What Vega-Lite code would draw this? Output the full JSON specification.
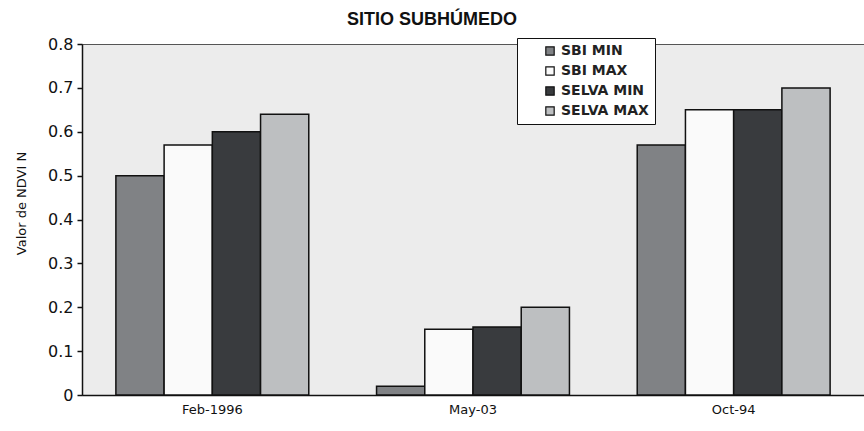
{
  "$schema": "https://vega.github.io/schema/vega-lite/v6.json",
  "width": 782,
  "height": 351,
  "autosize": {"type": "none"},
  "padding": {"left": 82, "top": 44, "right": 0, "bottom": 36},
  "background": "white",
  "title": {
    "text": "SITIO SUBHÚMEDO",
    "font": "Liberation Sans",
    "fontSize": 18,
    "fontWeight": "bold",
    "color": "#111",
    "anchor": "middle",
    "offset": 7,
    "frame": "group",
    "dx": -41
  },
  "config": {
    "font": "Liberation Sans",
    "view": {"fill": "#ececec", "stroke": "#555", "strokeWidth": 1}
  },
  "data": {
    "values": [
      {"fecha": "Feb-1996", "serie": "SBI MIN", "valor": 0.50},
      {"fecha": "Feb-1996", "serie": "SBI MAX", "valor": 0.57},
      {"fecha": "Feb-1996", "serie": "SELVA MIN", "valor": 0.60},
      {"fecha": "Feb-1996", "serie": "SELVA MAX", "valor": 0.64},
      {"fecha": "May-03", "serie": "SBI MIN", "valor": 0.02},
      {"fecha": "May-03", "serie": "SBI MAX", "valor": 0.15},
      {"fecha": "May-03", "serie": "SELVA MIN", "valor": 0.155},
      {"fecha": "May-03", "serie": "SELVA MAX", "valor": 0.20},
      {"fecha": "Oct-94", "serie": "SBI MIN", "valor": 0.57},
      {"fecha": "Oct-94", "serie": "SBI MAX", "valor": 0.65},
      {"fecha": "Oct-94", "serie": "SELVA MIN", "valor": 0.65},
      {"fecha": "Oct-94", "serie": "SELVA MAX", "valor": 0.70}
    ]
  },
  "mark": {"type": "bar", "stroke": "#111", "strokeWidth": 1.5},
  "encoding": {
    "x": {
      "field": "fecha",
      "type": "nominal",
      "sort": null,
      "scale": {"paddingInner": 0.26, "paddingOuter": 0.13},
      "axis": {
        "title": null,
        "labelAngle": 0,
        "labelFont": "DejaVu Sans",
        "labelFontSize": 13,
        "labelColor": "#111",
        "labelPadding": 8,
        "ticks": false,
        "domainColor": "#111",
        "domainWidth": 1.5
      }
    },
    "xOffset": {
      "field": "serie",
      "type": "nominal",
      "sort": ["SBI MIN", "SBI MAX", "SELVA MIN", "SELVA MAX"]
    },
    "y": {
      "field": "valor",
      "type": "quantitative",
      "scale": {"domain": [0, 0.8], "nice": false},
      "axis": {
        "title": "Valor de NDVI N",
        "titleFont": "DejaVu Sans",
        "titleFontSize": 13,
        "titleFontWeight": "normal",
        "titleColor": "#111",
        "titlePadding": 19,
        "titleY": 159,
        "values": [0, 0.1, 0.2, 0.3, 0.4, 0.5, 0.6, 0.7, 0.8],
        "labelExpr": "datum.value == 0 ? '0' : format(datum.value, '.1f')",
        "labelFont": "DejaVu Sans",
        "labelFontSize": 16,
        "labelColor": "#111",
        "labelPadding": 4,
        "tickColor": "#111",
        "tickSize": 5,
        "tickWidth": 1.5,
        "domainColor": "#111",
        "domainWidth": 1.5,
        "grid": false
      }
    },
    "color": {
      "field": "serie",
      "type": "nominal",
      "sort": ["SBI MIN", "SBI MAX", "SELVA MIN", "SELVA MAX"],
      "scale": {
        "domain": ["SBI MIN", "SBI MAX", "SELVA MIN", "SELVA MAX"],
        "range": ["#808285", "#fafafa", "#393b3e", "#bdbfc1"]
      },
      "legend": {
        "title": null,
        "orient": "none",
        "legendX": 435,
        "legendY": -6,
        "fillColor": "white",
        "strokeColor": "#111",
        "padding": 6,
        "symbolType": "square",
        "symbolSize": 70,
        "symbolOffset": 20,
        "symbolStrokeColor": "#111",
        "symbolStrokeWidth": 1.2,
        "labelFont": "DejaVu Sans",
        "labelFontSize": 14,
        "labelFontWeight": "bold",
        "labelColor": "#222",
        "rowPadding": 6,
        "labelLimit": 200,
        "labelOffset": 4
      }
    }
  }
}
